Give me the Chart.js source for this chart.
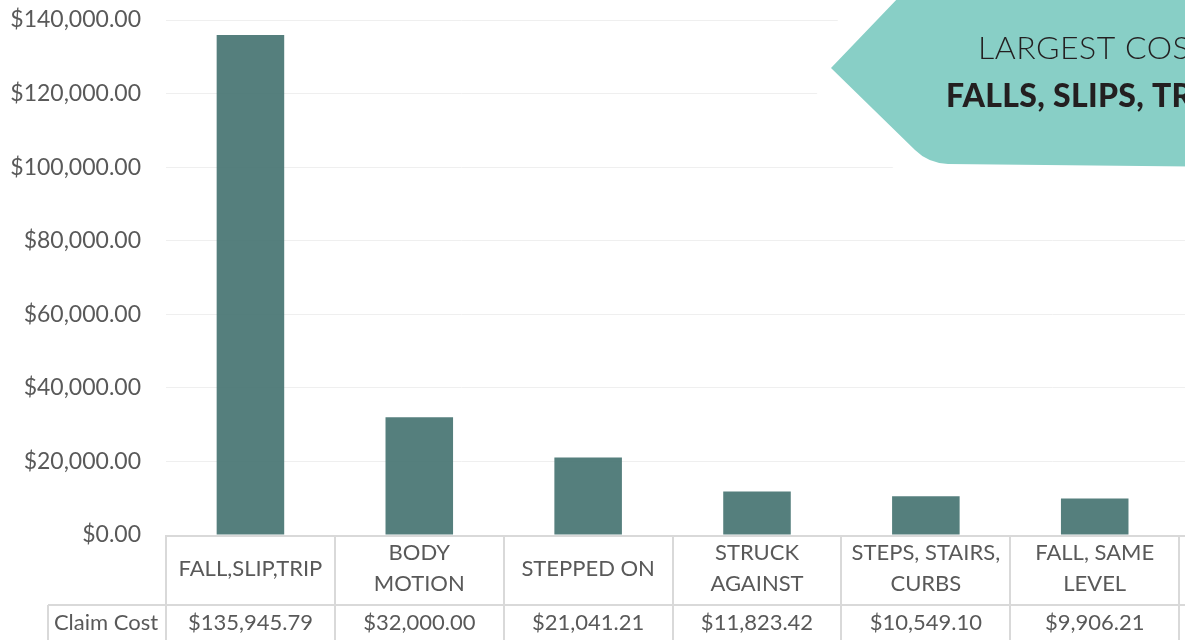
<!DOCTYPE html>
<html>
<head>
<meta charset="utf-8">
<script src="https://cdn.jsdelivr.net/npm/chart.js@4"></script>
<style>
  html, body { margin: 0; padding: 0; overflow: hidden; background: #fff; }
  #wrap { width: 1360px; height: 700px; position: absolute; left: 0; top: 0; }
</style>
</head>
<body>
<div id="wrap"><canvas id="bar"></canvas></div>
<script>
// data (last column is cut off at the right edge)
var categories = ['FALL,SLIP,TRIP', ['BODY', 'MOTION'], 'STEPPED ON', ['STRUCK', 'AGAINST'], ['STEPS, STAIRS,', 'CURBS'], ['FALL, SAME', 'LEVEL'], ''];
var claimCost = [135945.79, 32000.00, 21041.21, 11823.42, 10549.10, 9906.21, null];
var seriesName = 'Claim Cost';
var yMax = 140000;
var yStep = 20000;
var calloutLines = ['LARGEST COST', 'FALLS, SLIPS, TRIPS'];

function money(v) {
    return '$' + v.toLocaleString('en-US', { minimumFractionDigits: 2, maximumFractionDigits: 2 });
}

var tableAndCallout = {
    id: 'tableAndCallout',
    afterDraw: function(chart) {
        var ctx = chart.ctx;
        var x = chart.scales.x;
        var area = chart.chartArea;
        var n = categories.length;
        var w = (area.right - area.left) / n;
        var top = area.bottom;
        var mid = top + 70;
        var bottom = mid + 67;

        ctx.save();
        // table lines
        ctx.strokeStyle = '#d9d9d9';
        ctx.lineWidth = 2;
        ctx.beginPath();
        ctx.moveTo(area.left, top + 1);
        ctx.lineTo(area.right, top + 1);
        ctx.moveTo(48, mid);
        ctx.lineTo(area.right, mid);
        ctx.moveTo(48, bottom);
        ctx.lineTo(area.right, bottom);
        ctx.moveTo(48, mid);
        ctx.lineTo(48, bottom);
        for (var i = 0; i <= n; i++) {
            var bx = Math.round(area.left + i * w);
            ctx.moveTo(bx, top);
            ctx.lineTo(bx, bottom);
        }
        ctx.stroke();

        // table texts
        ctx.fillStyle = '#595959';
        ctx.font = '22px Lato';
        ctx.textAlign = 'center';
        ctx.textBaseline = 'middle';
        for (var j = 0; j < n; j++) {
            var cx = x.getPixelForValue(j);
            var lab = categories[j];
            if (Array.isArray(lab)) {
                ctx.fillText(lab[0], cx, top + 18);
                ctx.fillText(lab[1], cx, top + 49);
            } else {
                ctx.fillText(lab, cx, top + 34);
            }
            if (claimCost[j] != null) {
                ctx.fillText(money(claimCost[j]), cx, mid + 18);
            }
        }
        ctx.fillText(seriesName, 106, mid + 18);

        // callout
        ctx.beginPath();
        ctx.moveTo(900, -4);
        ctx.lineTo(1420, -4);
        ctx.lineTo(1420, 169);
        ctx.lineTo(948, 164);
        ctx.quadraticCurveTo(928, 163, 915, 150);
        ctx.lineTo(831, 68);
        ctx.closePath();
        ctx.strokeStyle = '#ffffff';
        ctx.lineWidth = 56;
        ctx.lineJoin = 'round';
        ctx.stroke();
        ctx.fillStyle = '#88cfc6';
        ctx.fill();

        ctx.fillStyle = '#231f20';
        ctx.textAlign = 'left';
        ctx.textBaseline = 'alphabetic';
        ctx.letterSpacing = '0.5px';
        ctx.font = '300 32px Lato';
        ctx.fillText(calloutLines[0], 978, 59);
        ctx.letterSpacing = '0.3px';
        ctx.font = '900 32px Lato';
        ctx.fillText(calloutLines[1], 946, 107);
        ctx.restore();
    }
};

document.addEventListener('DOMContentLoaded', function() {
    var ctx = document.getElementById('bar').getContext('2d');
    new Chart(ctx, {
        type: 'bar',
        data: {
            labels: categories,
            datasets: [{
                label: seriesName,
                data: claimCost,
                backgroundColor: 'rgba(72, 117, 115, 0.93)',
                borderWidth: 0,
                barPercentage: 0.40,
                categoryPercentage: 1.0
            }]
        },
        options: {
            responsive: true,
            maintainAspectRatio: false,
            animation: false,
            layout: { padding: { top: 20, right: 12, bottom: 165, left: 0 } },
            scales: {
                x: { display: false },
                y: {
                    min: 0,
                    max: yMax,
                    afterFit: function(s) {
                        s.width = 166;
                        s.paddingTop = 0;
                        s.paddingBottom = 0;
                    },
                    border: { display: false },
                    grid: { color: '#efefef', lineWidth: 1, drawTicks: false },
                    ticks: {
                        stepSize: yStep,
                        padding: 25,
                        color: '#595959',
                        font: { family: 'Lato', size: 23 },
                        callback: function(value) { return money(value); }
                    }
                }
            },
            plugins: {
                legend: { display: false },
                tooltip: { enabled: false }
            }
        },
        plugins: [tableAndCallout]
    });
});
</script>
</body>
</html>
